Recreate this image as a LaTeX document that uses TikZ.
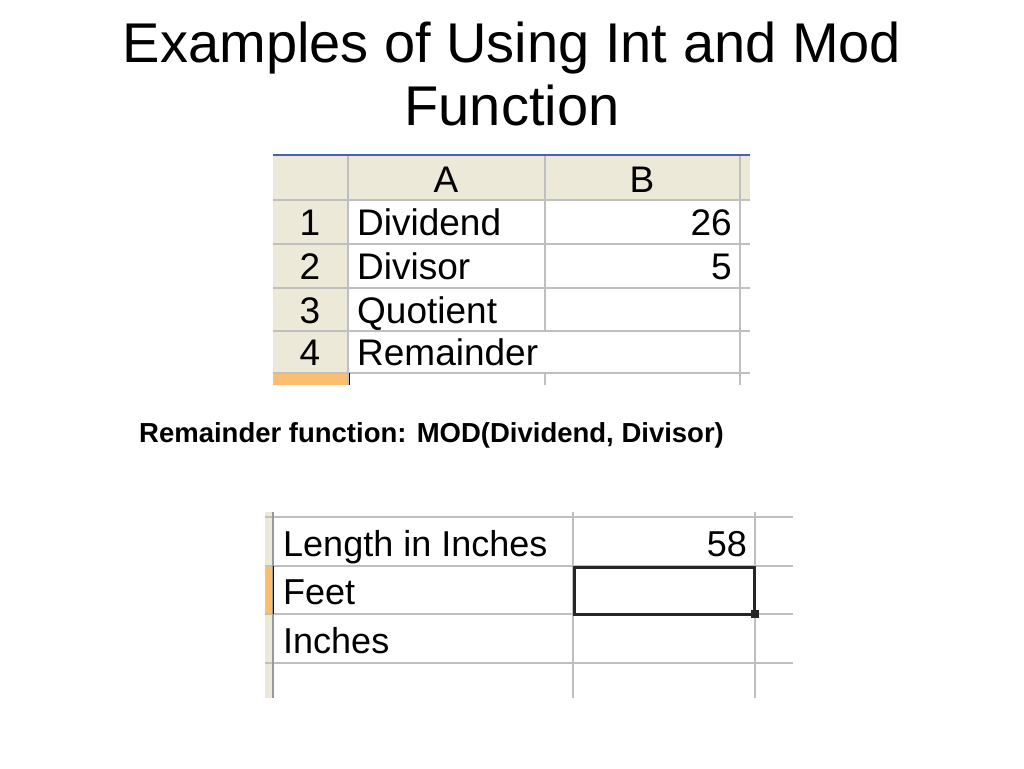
\documentclass[tikz,border=0pt]{standalone}
\usepackage{fontspec}
\setmainfont{Liberation Sans}
\definecolor{hdrc}{RGB}{236,233,216}
\definecolor{selc}{RGB}{250,190,110}
\definecolor{topc}{RGB}{70,100,180}
\begin{document}
\begin{tikzpicture}[x=1pt,y=-1pt,
  grid/.style={draw=black!25,line width=1.5pt},
  hdr/.style={fill=hdrc},
  cell/.style={font=\fontsize{37}{37}\selectfont,inner sep=0pt,anchor=mid},
  cellb/.style={font=\fontsize{36}{36}\selectfont,inner sep=0pt},
  ttl/.style={font=\fontsize{56}{63}\selectfont,align=center}]
\useasboundingbox (0,0) rectangle (1024,768);
\node[ttl] (title) at (512,74) {Examples of Using Int and Mod\\Function};
% table 1
\fill[hdr] (273,155) rectangle (750,200);
\fill[hdr] (273,200) rectangle (348,373);
\fill[selc] (273,373) rectangle (348,385);
\draw[grid] (273,200) -- (750,200) (273,244) -- (750,244) (273,288) -- (750,288) (273,331) -- (750,331) (273,373) -- (750,373);
\draw[grid] (348,155) -- (348,385) (545,155) -- (545,331) (545,373) -- (545,385) (740,155) -- (740,385);
\draw[topc,line width=2pt] (273,155) -- (750,155);
\draw[blue!60!black,line width=1pt] (349,373) -- (349,385);
\node[cell] (hA) at (446,190) {A};
\node[cell] (hB) at (642,190) {B};
\foreach \n/\y in {1/233,2/277,3/321,4/363} \node[cell] (r\n) at (310,\y) {\n};
\node[cell,anchor=mid west] (dvd) at (357,233) {Dividend};
\node[cell,anchor=mid west] (dvs) at (357,277) {Divisor};
\node[cell,anchor=mid west] (quo) at (357,321) {Quotient};
\node[cell,anchor=mid west] (rem) at (357,363) {Remainder};
\node[cell,anchor=mid east] (v26) at (732,233) {26};
\node[cell,anchor=mid east] (v5) at (732,277) {5};
% caption
\node[font=\bfseries\fontsize{27.5}{28}\selectfont,anchor=west,inner sep=0pt] (cap) at (139,435) {Remainder function: MOD(Dividend, Divisor)};
% table 2
\fill[hdr] (265,512) rectangle (273,698);
\fill[selc] (265,566) rectangle (273,614);
\draw[grid] (265,517) -- (793,517) (265,566) -- (793,566) (265,614) -- (793,614) (265,663) -- (793,663);
\draw[grid] (573,512) -- (573,698) (755,512) -- (755,698);
\draw[black!40,line width=1.5pt] (273,512) -- (273,698);
\draw[blue!60!black,line width=1pt] (273,566) -- (273,614);
\draw[black!85,line width=3pt] (574,567) rectangle (754,614);
\fill[black!85] (751,610) rectangle (759,618);
\node[cellb,anchor=mid west] (len) at (283,554) {Length in Inches};
\node[cellb,anchor=mid west] (ft) at (283,602) {Feet};
\node[cellb,anchor=mid west] (inch) at (283,651) {Inches};
\node[cellb,anchor=mid east] (v58) at (747,554) {58};
\end{tikzpicture}
\end{document}
